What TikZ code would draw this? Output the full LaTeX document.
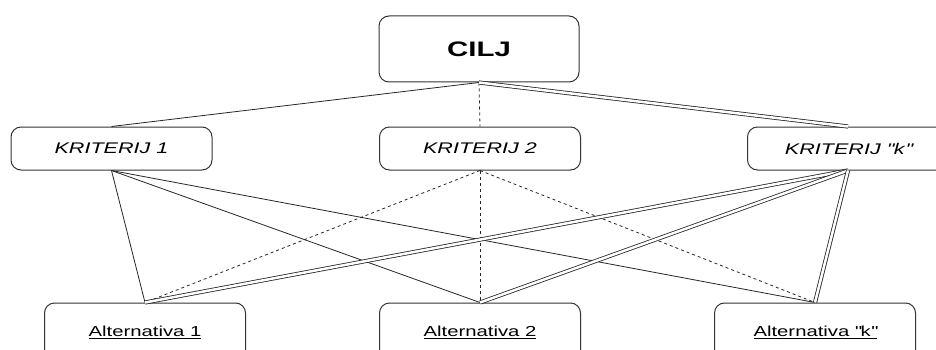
\documentclass[tikz,border=0pt]{standalone}
\usepackage{fontspec}
\setmainfont[FakeStretch=1.4]{Liberation Sans}
\begin{document}
\begin{tikzpicture}[x=1pt,y=-1pt,
  box/.style={draw=black!80, line width=1pt, rounded corners=10pt, inner sep=0pt, align=center},
  topbox/.style={box, minimum width=200pt, minimum height=66pt, font=\fontsize{21}{24}\selectfont\bfseries},
  critbox/.style={box, minimum width=201pt, minimum height=43pt, font=\fontsize{15.4}{18}\selectfont\itshape},
  altbox/.style={box, minimum width=201pt, minimum height=58pt, font=\fontsize{14.5}{17}\selectfont},
  conn/.style={draw=black!85, line width=0.8pt},
  dashconn/.style={conn, dash pattern=on 3pt off 3pt},
  dblconn/.style={draw=black!85, line width=0.8pt, double=white, double distance=2.5pt}
]
\useasboundingbox (0,0) rectangle (936,350);
\clip (0,0) rectangle (936,350);

\node[topbox] (cilj) at (479,49) {CILJ};
\node[critbox] (k1) at (111.5,148.5) {KRITERIJ 1};
\node[critbox] (k2) at (480,148.5) {KRITERIJ 2};
\node[critbox] (kk) at (848,148.5) {KRITERIJ \textquotedbl\kern1.5pt k\kern1pt\textquotedbl};
\node[altbox] (a1) at (145,332) {\underline{Alternativa 1}};
\node[altbox] (a2) at (480,332) {\underline{Alternativa 2}};
\node[altbox] (ak) at (815,332) {\underline{Alternativa \textquotedbl\kern0.5pt k\kern0.5pt\textquotedbl}};

\draw[conn] (cilj.south) -- (k1.north);
\draw[dashconn] (cilj.south) -- (k2.north);
\draw[dblconn] (cilj.south) -- (kk.north);

\draw[conn] (k1.south) -- (a1.north);
\draw[conn] (k1.south) -- (a2.north);
\draw[conn] (k1.south) -- (ak.north);

\draw[dashconn] (k2.south) -- (a1.north);
\draw[dashconn] (k2.south) -- (a2.north);
\draw[dashconn] (k2.south) -- (ak.north);

\draw[dblconn] (kk.south) -- (a1.north);
\draw[dblconn] (kk.south) -- (a2.north);
\draw[dblconn] (kk.south) -- (ak.north);
\end{tikzpicture}
\end{document}
